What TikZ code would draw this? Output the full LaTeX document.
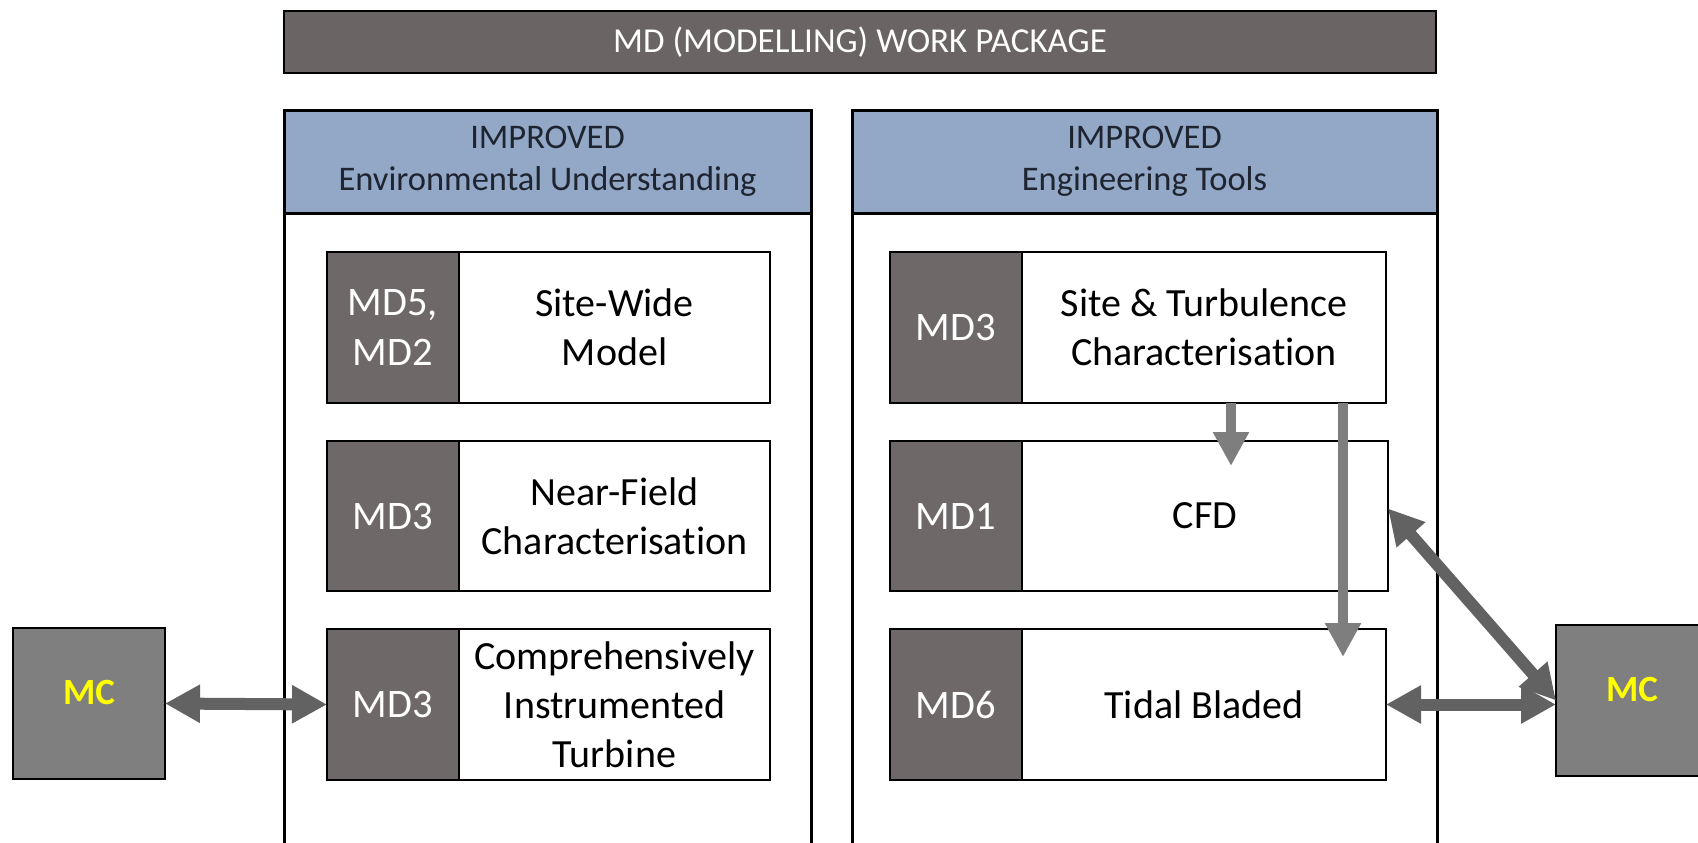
\documentclass[tikz,border=0pt]{standalone}
\usepackage{fontspec}
\setmainfont{Carlito}[Ligatures=NoCommon]
\usetikzlibrary{arrows.meta,calc}
\definecolor{mddark}{HTML}{6E6869}
\definecolor{titledark}{HTML}{6B6464}
\definecolor{hdrblue}{HTML}{92A8C6}
\definecolor{mcgrey}{HTML}{7F7F7F}
\definecolor{arrowgrey}{HTML}{626262}
\definecolor{downgrey}{HTML}{7E7E7E}
\definecolor{mcyellow}{HTML}{FFFF00}
\definecolor{hdrtext}{HTML}{1E2430}
\begin{document}
\begin{tikzpicture}[x=1pt,y=-1pt,
  base/.style={inner sep=0pt, outer sep=0pt, anchor=north west, align=center},
  titlebar/.style={base, draw=black, line width=2.5pt, fill=titledark, text=white, font=\fontsize{35}{40}\selectfont},
  panel/.style={draw=black, line width=3pt},
  header/.style={base, draw=black, line width=3pt, fill=hdrblue, text=hdrtext, font=\fontsize{34.5}{42}\selectfont},
  mdlabel/.style={base, draw=black, line width=2pt, fill=mddark, text=white, font=\fontsize{40.5}{50}\selectfont},
  mdtext/.style={base, draw=black, line width=2pt, fill=white, text=black, font=\fontsize{40}{49}\selectfont},
  mcbox/.style={base, draw=black, line width=2pt, fill=mcgrey},
  mclabel/.style={inner sep=0pt, text=mcyellow, font=\bfseries\fontsize{37}{42}\selectfont},
  bigarrow/.style={draw=arrowgrey, line width=12pt, {Triangle[length=35pt,width=36pt]}-{Triangle[length=35pt,width=36pt]}},
  downarrow/.style={draw=downgrey, line width=10pt, -{Triangle[length=34pt,width=34pt]}}
]
\useasboundingbox (0,0) rectangle (1698,843);
\clip (0,0) rectangle (1698,843);

% title
\node[titlebar, minimum width=1152pt, minimum height=62pt] (title) at (284,11) {MD (MODELLING) WORK PACKAGE};

% panels
\draw[panel] (284,900) -- (284,110) -- (811,110) -- (811,900);
\draw[panel] (852,900) -- (852,110) -- (1437,110) -- (1437,900);
\node[header, minimum width=527pt, minimum height=103pt] (hl) at (284,110) {IMPROVED\\Environmental Understanding};
\node[header, minimum width=585pt, minimum height=103pt] (hr) at (852,110) {IMPROVED\\Engineering Tools};

% left column
\node[mdlabel, minimum width=132pt, minimum height=151pt] (l1d) at (327,252) {MD5,\\MD2};
\node[mdtext, minimum width=311pt, minimum height=151pt] (l1w) at (459,252) {Site-Wide\\Model};
\node[mdlabel, minimum width=132pt, minimum height=150pt] (l2d) at (327,441) {MD3};
\node[mdtext, minimum width=311pt, minimum height=150pt] (l2w) at (459,441) {Near-Field\\Characterisation};
\node[mdlabel, minimum width=132pt, minimum height=151pt] (l3d) at (327,629) {MD3};
\node[mdtext, minimum width=311pt, minimum height=151pt] (l3w) at (459,629) {Comprehensively\\Instrumented\\Turbine};

% right column
\node[mdlabel, minimum width=132pt, minimum height=151pt] (r1d) at (890,252) {MD3};
\node[mdtext, minimum width=364pt, minimum height=151pt] (r1w) at (1022,252) {Site \& Turbulence\\Characterisation};
\node[mdlabel, minimum width=132pt, minimum height=150pt] (r2d) at (890,441) {MD1};
\node[mdtext, minimum width=366pt, minimum height=150pt] (r2w) at (1022,441) {CFD};
\node[mdlabel, minimum width=132pt, minimum height=151pt] (r3d) at (890,629) {MD6};
\node[mdtext, minimum width=364pt, minimum height=151pt] (r3w) at (1022,629) {Tidal Bladed};

% MC boxes
\node[mcbox, minimum width=152pt, minimum height=151pt] (mcl) at (13,628) {};
\node[mclabel] (mcltext) at ($(mcl.center)+(0,-11)$) {MC};
\node[mcbox, minimum width=152pt, minimum height=151pt] (mcr) at (1556,625) {};
\node[mclabel] (mcrtext) at ($(mcr.center)+(0,-11)$) {MC};

% arrows
\coordinate (d1) at (1231,466);
\coordinate (d2) at (1343,657);
\draw[downarrow] (r1w.south -| d1) -- (d1);
\draw[downarrow] (r1w.south -| d2) -- (d2);
\draw[bigarrow] (mcl.east) -- (l3d.west);
\draw[bigarrow] (r3w.east) -- (r3w.east -| mcr.west);
\coordinate (cfdr) at ($(r2w.north east)!0.45!(r2w.south east)$);
\draw[bigarrow] (cfdr) -- (mcr.west);
\end{tikzpicture}
\end{document}
